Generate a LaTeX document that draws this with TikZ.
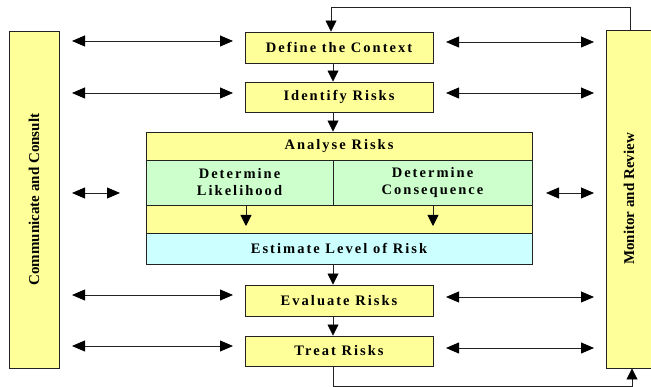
\documentclass[tikz,border=0pt]{standalone}
\usepackage{fontspec}
\setmainfont{Liberation Serif}
\usetikzlibrary{arrows.meta}
\definecolor{byel}{HTML}{FFFF99}
\definecolor{bgrn}{HTML}{CCFFCC}
\definecolor{bcyn}{HTML}{CCFFFF}
\definecolor{bline}{HTML}{222222}
\newfontfamily\spacedfont[LetterSpace=14]{Liberation Serif}
\begin{document}
\begin{tikzpicture}[x=1pt,y=-1pt,
  boxstyle/.style={draw=bline,line width=0.9pt,inner sep=0pt,font=\spacedfont\bfseries\fontsize{14.5}{17}\selectfont},
  yelbox/.style={boxstyle,fill=byel},
  grnbox/.style={boxstyle,fill=bgrn,align=center},
  cynbox/.style={boxstyle,fill=bcyn},
  sidebox/.style={draw=bline,line width=0.9pt,fill=byel,inner sep=0pt},
  sidetext/.style={rotate=90,font=\bfseries\fontsize{15}{17}\selectfont},
  conn/.style={draw=bline,line width=0.8pt,-{Triangle[length=11pt,width=11pt,color=black]}},
  dconn/.style={draw=bline,line width=0.8pt,{Triangle[length=13pt,width=11pt,color=black]}-{Triangle[length=13pt,width=11pt,color=black]}}]
\useasboundingbox (0,0) rectangle (651,387);
% side boxes
\node[sidebox,minimum width=50pt,minimum height=337pt] (comm) at (34,199.5) {};
\node[sidetext] (commt) at (comm.center) {Communicate and Consult};
\node[sidebox,minimum width=47pt,minimum height=338pt] (mon) at (629.5,199) {};
\node[sidetext] (mont) at (629,199) {Monitor and Review};
% main boxes
\node[yelbox,minimum width=188pt,minimum height=31pt] (def) at (339,47.5) {Define the Context};
\node[yelbox,minimum width=188pt,minimum height=30pt] (ide) at (339,97) {Identify Risks};
\node[yelbox,minimum width=386pt,minimum height=28pt] (ana) at (339,146) {Analyse Risks};
\node[grnbox,minimum width=187pt,minimum height=45pt] (lik) at (239.5,182.5) {Determine\\Likelihood};
\node[grnbox,minimum width=199pt,minimum height=45pt] (con) at (432.5,182.5) {Determine\\Consequence};
\node[yelbox,minimum width=386pt,minimum height=28pt] (mid) at (339,219) {};
\node[cynbox,minimum width=386pt,minimum height=31pt] (est) at (339,248.5) {Estimate Level of Risk};
\node[yelbox,minimum width=188pt,minimum height=31pt] (eva) at (339,300.5) {Evaluate Risks};
\node[yelbox,minimum width=188pt,minimum height=30pt] (tre) at (339,351) {Treat Risks};
% coordinates for arrows
\coordinate (ax) at (333,0);
\coordinate (lk) at (246,226);
\coordinate (ck) at (433,226);
% vertical flow
\draw[conn] (def.south -| ax) -- (ide.north -| ax);
\draw[conn] (ide.south -| ax) -- (ana.north -| ax);
\draw[conn] (est.south -| ax) -- (eva.north -| ax);
\draw[conn] (eva.south -| ax) -- (tre.north -| ax);
\draw[conn] (lik.south -| lk) -- (lk);
\draw[conn] (con.south -| ck) -- (ck);
% feedback loops
\coordinate (ftop) at (630,7);
\coordinate (fx) at (331,0);
\coordinate (fbot) at (632,386);
\draw[conn] (mon.north -| ftop) -- (ftop) -- (ftop -| fx) -- (def.north -| fx);
\draw[conn] (tre.south -| ax) -- (fbot -| ax) -- (fbot) -- (mon.south -| fbot);
% communicate arrows
\coordinate (l1) at (72,41);  \coordinate (r1) at (233,41);
\coordinate (l2) at (72,93);  \coordinate (r2) at (233,93);
\coordinate (l3) at (72,193); \coordinate (r3) at (120,193);
\coordinate (l4) at (72,295); \coordinate (r4) at (233,295);
\coordinate (l5) at (72,346); \coordinate (r5) at (233,346);
\draw[dconn] (l1) -- (r1);
\draw[dconn] (l2) -- (r2);
\draw[dconn] (l3) -- (r3);
\draw[dconn] (l4) -- (r4);
\draw[dconn] (l5) -- (r5);
% monitor arrows
\coordinate (m1) at (446,42);  \coordinate (n1) at (594,42);
\coordinate (m2) at (446,93);  \coordinate (n2) at (594,93);
\coordinate (m3) at (546,193); \coordinate (n3) at (594,193);
\coordinate (m4) at (446,297); \coordinate (n4) at (594,297);
\coordinate (m5) at (446,348); \coordinate (n5) at (594,348);
\draw[dconn] (m1) -- (n1);
\draw[dconn] (m2) -- (n2);
\draw[dconn] (m3) -- (n3);
\draw[dconn] (m4) -- (n4);
\draw[dconn] (m5) -- (n5);
\end{tikzpicture}
\end{document}
